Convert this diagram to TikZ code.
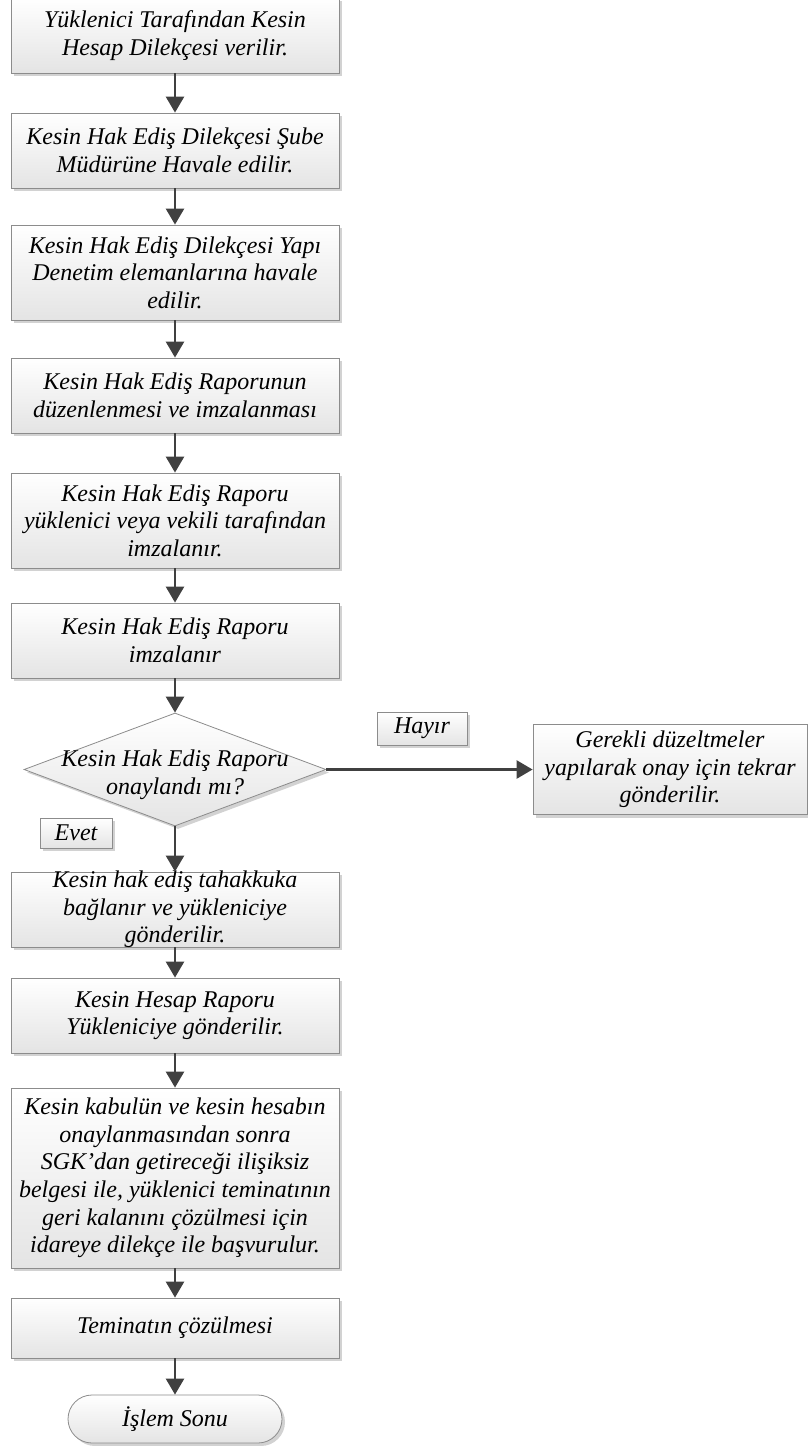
\documentclass[tikz,border=0pt]{standalone}
\usepackage{fontspec}
\setmainfont{Liberation Serif}
\usetikzlibrary{shapes.geometric,shadows,arrows.meta}

\definecolor{boxline}{HTML}{8C8C8C}
\definecolor{boxshade}{HTML}{E4E4E4}
\definecolor{shadowgray}{HTML}{D2D2D2}
\definecolor{arrowgray}{HTML}{404040}

\tikzset{
  every node/.style={font=\fontsize{24}{27.6}\selectfont\itshape, align=center},
  shaded/.style={draw=boxline, top color=white, bottom color=boxshade,
    drop shadow={shadow xshift=3pt, shadow yshift=-3pt, fill=shadowgray, opacity=1}},
  stepbox/.style={shaded, minimum width=328pt, inner xsep=4pt, inner ysep=2pt},
  tagbox/.style={shaded, inner sep=1pt},
  decision/.style={shaded, shape=diamond, minimum width=302pt, minimum height=113pt, inner sep=0pt},
  endbox/.style={shaded, rounded corners=24pt, minimum width=214pt, minimum height=48pt},
  flow/.style={draw=arrowgray, line width=2.6pt, -{Triangle[length=16pt,width=18pt]}}
}

\begin{document}
\begin{tikzpicture}[x=1pt, y=-1pt, line width=0.8pt]
\useasboundingbox (0,0) rectangle (808,1446);

% main column
\node[stepbox, minimum height=75pt] (b1) at (175,35.5) {Yüklenici Tarafından Kesin\\Hesap Dilekçesi verilir.};
\node[stepbox, minimum height=75pt] (b2) at (175,150.5) {Kesin Hak Ediş Dilekçesi Şube\\Müdürüne Havale edilir.};
\node[stepbox, minimum height=95pt] (b3) at (175,272.5) {Kesin Hak Ediş Dilekçesi Yapı\\Denetim elemanlarına havale\\edilir.};
\node[stepbox, minimum height=75pt] (b4) at (175,395.5) {Kesin Hak Ediş Raporunun\\düzenlenmesi ve imzalanması};
\node[stepbox, minimum height=95pt] (b5) at (175,520.5) {Kesin Hak Ediş Raporu\\yüklenici veya vekili tarafından\\imzalanır.};
\node[stepbox, minimum height=75pt] (b6) at (175,640.5) {Kesin Hak Ediş Raporu\\imzalanır};
\node[decision, label={[name=dectxt, yshift=-5pt]center:{Kesin Hak Ediş Raporu\\onaylandı mı?}}] (dec) at (175,769.5) {};
\node[stepbox, minimum height=75pt, inner ysep=-3pt] (b7) at (175,909.5) {Kesin hak ediş tahakkuka\\bağlanır ve yükleniciye\\gönderilir.};
\node[stepbox, minimum height=75pt] (b8) at (175,1015.5) {Kesin Hesap Raporu\\Yükleniciye gönderilir.};
\node[stepbox, minimum height=180pt] (b9) at (175,1178) {Kesin kabulün ve kesin hesabın\\onaylanmasından sonra\\SGK’dan getireceği ilişiksiz\\belgesi ile, yüklenici teminatının\\geri kalanını çözülmesi için\\idareye dilekçe ile başvurulur.};
\node[stepbox, minimum height=60pt] (b10) at (175,1328) {Teminatın çözülmesi};
\node[endbox] (son) at (175,1419) {İşlem Sonu};

% side branch
\node[shaded, minimum width=274pt, minimum height=90pt, inner sep=2pt] (fix) at (670,769.5) {Gerekli düzeltmeler\\yapılarak onay için tekrar\\gönderilir.};
\node[tagbox, minimum width=90pt, minimum height=33pt] (hayir) at (422,728.5) {Hayır};
\node[tagbox, minimum width=72pt, minimum height=30pt] (evet) at (76,833) {Evet};

% arrows
\foreach \a/\b in {b1/b2,b2/b3,b3/b4,b4/b5,b5/b6,b6/dec,dec/b7,b7/b8,b8/b9,b9/b10,b10/son} {
    \draw[flow] (\a) -- (\b);
}
\draw[flow] (dec) -- (fix);
\end{tikzpicture}
\end{document}
